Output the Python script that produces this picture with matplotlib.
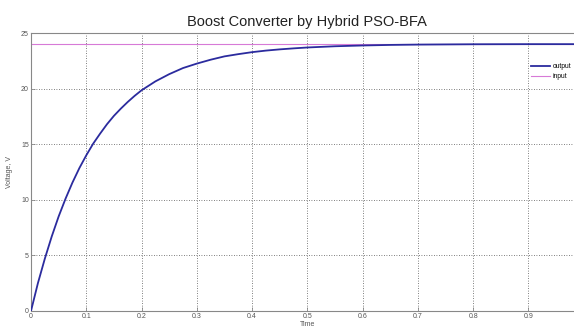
"""
Boost converter output (Hybrid PSO-BFA): voltage step response vs input reference.
"""

import matplotlib
matplotlib.use("Agg")
import matplotlib.pyplot as plt

plt.rcParams["font.family"] = ["Liberation Sans", "DejaVu Sans"]

# ── data ──────────────────────────────────────────────────────────────────────
time_s = [0.0, 0.0125, 0.025, 0.0375, 0.05, 0.0625, 0.075, 0.0875, 0.1,
          0.1125, 0.125, 0.1375, 0.15, 0.1625, 0.175, 0.1875, 0.2, 0.225,
          0.25, 0.275, 0.3, 0.325, 0.35, 0.375, 0.4, 0.425, 0.45, 0.475,
          0.5, 0.55, 0.6, 0.65, 0.7, 0.8, 0.9, 1.0]
output_v = [0.0, 2.5, 4.7, 6.7, 8.5, 10.1, 11.55, 12.85, 14.0,
            15.05, 15.95, 16.8, 17.55, 18.2, 18.8, 19.35, 19.85, 20.65,
            21.3, 21.85, 22.25, 22.6, 22.9, 23.1, 23.28, 23.42, 23.53, 23.62,
            23.7, 23.81, 23.88, 23.93, 23.96, 23.99, 24.0, 24.0]
input_t = [0.0, 1.0]
input_v = [24.0, 24.0]

x_ticks = [0, 0.1, 0.2, 0.3, 0.4, 0.5, 0.6, 0.7, 0.8, 0.9, 1.0]
x_labels = ["0", "0.1", "0.2", "0.3", "0.4", "0.5", "0.6", "0.7", "0.8", "0.9", ""]
y_ticks = [0, 5, 10, 15, 20, 25]

# ── figure ───────────────────────────────────────────────────────────────────
fig = plt.figure(figsize=(5.74, 3.27), dpi=100)
ax = fig.add_axes([0.054, 0.049, 0.963, 0.850])

ax.plot(time_s, output_v, color="#2b2b9e", lw=1.3, label="output", zorder=3)
ax.plot(input_t, input_v, color="#d77ad7", lw=0.8, label="input", zorder=2)

ax.set_xlim(0, 1.0)
ax.set_ylim(0, 25)
ax.set_xticks(x_ticks)
ax.set_xticklabels(x_labels)
ax.set_yticks(y_ticks)

ax.grid(True, color="#555555", ls=(0, (1.0, 2.0)), lw=0.6)
ax.tick_params(direction="in", length=3, width=0.6, labelsize=5,
               labelcolor="#555555", color="#888888", pad=1.5)
for sp in ax.spines.values():
    sp.set_color("#888888")
    sp.set_linewidth(0.8)

ax.set_title("Boost Converter by Hybrid PSO-BFA", fontsize=10.5,
             color="#222222", pad=5)
ax.set_ylabel("Voltage, V", fontsize=5, color="#555555", labelpad=6)
ax.set_xlabel("Time", fontsize=5, color="#555555", labelpad=1)

ax.legend(loc="upper left", bbox_to_anchor=(0.9, 0.9), frameon=False,
          fontsize=4.8, handlelength=2.8, handletextpad=0.4,
          labelspacing=0.45, borderaxespad=0)

fig.savefig("out.png", dpi=100)
